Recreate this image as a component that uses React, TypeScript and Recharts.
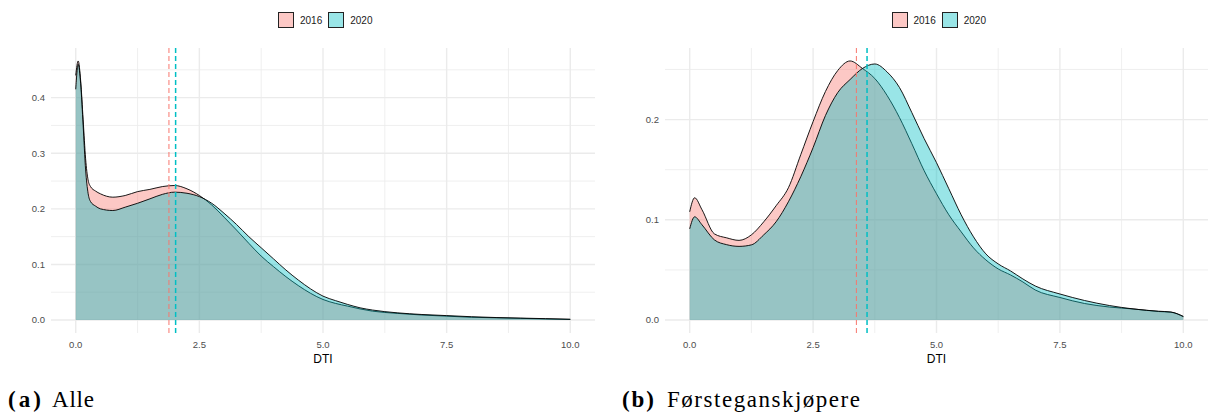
import React from "react";
import { Area, CartesianGrid, ComposedChart, ReferenceLine, XAxis, YAxis } from "recharts";

// (a) Alle
const dtiAlle = [0, 0.05, 0.1, 0.15, 0.2, 0.25, 0.3, 0.4, 0.5, 0.75, 1, 1.25, 1.5, 1.75, 2, 2.25, 2.5, 2.75, 3, 3.25, 3.5, 3.75, 4, 4.25, 4.5, 4.75, 5, 5.25, 5.5, 5.75, 6, 6.5, 7, 7.5, 8, 8.5, 9, 9.5, 10];
const alle2016 = [0.44, 0.466, 0.43, 0.36, 0.29, 0.252, 0.24, 0.232, 0.227, 0.221, 0.224, 0.231, 0.235, 0.24, 0.242, 0.236, 0.224, 0.207, 0.185, 0.162, 0.138, 0.115, 0.096, 0.078, 0.062, 0.048, 0.037, 0.03, 0.025, 0.02, 0.016, 0.012, 0.009, 0.007, 0.005, 0.004, 0.003, 0.002, 0.001];
const alle2020 = [0.415, 0.46, 0.425, 0.35, 0.27, 0.228, 0.213, 0.205, 0.2, 0.197, 0.203, 0.21, 0.218, 0.226, 0.23, 0.228, 0.222, 0.21, 0.192, 0.172, 0.15, 0.13, 0.11, 0.09, 0.072, 0.056, 0.043, 0.035, 0.028, 0.022, 0.018, 0.013, 0.01, 0.008, 0.006, 0.0045, 0.0035, 0.0025, 0.0015];
const alleMeans = [1.885, 2.02];

// (b) Førsteganskjøpere
const dtiFirst = [0, 0.1, 0.25, 0.5, 0.75, 1, 1.25, 1.5, 1.75, 2, 2.25, 2.5, 2.75, 3, 3.25, 3.5, 3.75, 4, 4.25, 4.5, 4.75, 5, 5.25, 5.5, 5.75, 6, 6.25, 6.5, 6.75, 7, 7.5, 8, 8.5, 9, 9.5, 9.75, 10];
const first2016 = [0.108, 0.122, 0.11, 0.086, 0.082, 0.0795, 0.085, 0.098, 0.114, 0.132, 0.165, 0.198, 0.228, 0.249, 0.2585, 0.251, 0.241, 0.224, 0.202, 0.176, 0.149, 0.126, 0.105, 0.088, 0.072, 0.06, 0.051, 0.045, 0.038, 0.03, 0.0225, 0.0165, 0.013, 0.011, 0.0085, 0.0078, 0.0035];
const first2020 = [0.091, 0.103, 0.095, 0.08, 0.0752, 0.0735, 0.075, 0.085, 0.098, 0.118, 0.143, 0.172, 0.204, 0.227, 0.24, 0.251, 0.2555, 0.2475, 0.232, 0.207, 0.181, 0.157, 0.131, 0.105, 0.083, 0.066, 0.056, 0.049, 0.041, 0.034, 0.026, 0.0195, 0.0145, 0.011, 0.0088, 0.008, 0.0035];
const firstMeans = [3.377, 3.593];

const years = ["2016", "2020"];
const xTicks = [0, 2.5, 5, 7.5, 10];
const xMinor = [1.25, 3.75, 6.25, 8.75];
const alleYTicks = [0, 0.1, 0.2, 0.3, 0.4];
const alleYMinor = [0.05, 0.15, 0.25, 0.35, 0.45];
const firstYTicks = [0, 0.1, 0.2];
const firstYMinor = [0.05, 0.15, 0.25];

const SANS = "'Liberation Sans', Arial, sans-serif";
const SERIF = "'Liberation Serif', 'Times New Roman', serif";
const PINK = "#F8766D";
const TEAL = "#00BFC4";
const GRID = "#EBEBEB";

interface PanelProps {
  xs: number[];
  s2016: number[];
  s2020: number[];
  means: number[];
  yTicks: number[];
  yMinor: number[];
  yAxisWidth: number;
  marginRight: number;
}

const DensityPanel: React.FC<PanelProps> = ({ xs, s2016, s2020, means, yTicks, yMinor, yAxisWidth, marginRight }) => {
  const data = xs.map((x, i) => ({ dti: x, y2016: s2016[i], y2020: s2020[i] }));
  const top = Math.max(...s2016, ...s2020);
  const plotLeft = yAxisWidth;
  const plotRight = 604 - marginRight;
  const legendLeft = (plotLeft + plotRight) / 2 - 45;

  return (
    <div style={{ position: "relative", width: 604, height: 412 }}>
      <div
        style={{
          position: "absolute",
          left: legendLeft,
          top: 12,
          display: "flex",
          alignItems: "center",
          fontFamily: SANS,
          fontSize: 10,
          color: "#1a1a1a",
          height: 16,
        }}
      >
        {years.map((yr, i) => (
          <div key={yr} style={{ display: "flex", alignItems: "center", marginRight: 6 }}>
            <div
              style={{
                width: 16,
                height: 16,
                boxSizing: "border-box",
                border: "1px solid #222",
                background: i === 0 ? "rgba(248,118,109,0.4)" : "rgba(0,191,196,0.4)",
              }}
            />
            <span style={{ marginLeft: 6 }}>{yr}</span>
          </div>
        ))}
      </div>
      <div style={{ position: "absolute", left: 0, top: 0 }}>
        <ComposedChart width={604} height={365} data={data} margin={{ top: 48, right: marginRight, left: 0, bottom: 0 }}>
          <CartesianGrid stroke={GRID} strokeWidth={0.8} horizontalValues={yMinor} verticalValues={xMinor} />
          <CartesianGrid stroke={GRID} strokeWidth={1.4} horizontalValues={yTicks} verticalValues={xTicks} />
          <XAxis
            dataKey="dti"
            type="number"
            domain={[-0.5, 10.5]}
            ticks={xTicks}
            tickFormatter={(v: number) => v.toFixed(1)}
            tickLine={false}
            axisLine={false}
            tickSize={0}
            tickMargin={8}
            height={32}
            tick={{ fill: "#4D4D4D", fontSize: 9.5, fontFamily: SANS }}
            label={{ value: "DTI", position: "insideBottom", offset: 2, fill: "#000", fontSize: 12, fontFamily: SANS }}
          />
          <YAxis
            type="number"
            domain={[-top * 0.05, top * 1.05]}
            ticks={yTicks}
            tickFormatter={(v: number) => v.toFixed(1)}
            tickLine={false}
            axisLine={false}
            tickSize={0}
            tickMargin={6}
            width={yAxisWidth}
            tick={{ fill: "#4D4D4D", fontSize: 9.5, fontFamily: SANS }}
          />
          <Area
            type="monotone"
            dataKey="y2016"
            stroke="#000"
            strokeWidth={0.9}
            fill={PINK}
            fillOpacity={0.4}
            dot={false}
            activeDot={false}
            isAnimationActive={false}
          />
          <Area
            type="monotone"
            dataKey="y2020"
            stroke="#000"
            strokeWidth={0.9}
            fill={TEAL}
            fillOpacity={0.4}
            dot={false}
            activeDot={false}
            isAnimationActive={false}
          />
          <ReferenceLine x={means[0]} stroke={PINK} strokeWidth={1} strokeDasharray="5 3" />
          <ReferenceLine x={means[1]} stroke={TEAL} strokeWidth={1.5} strokeDasharray="5 3" />
        </ComposedChart>
      </div>
    </div>
  );
};

const App: React.FC = () => {
  return (
    <div style={{ position: "absolute", left: 0, top: 0, width: 1208, height: 412, background: "#fff", overflow: "hidden" }}>
      <div style={{ position: "absolute", left: 0, top: 0 }}>
        <DensityPanel
          xs={dtiAlle}
          s2016={alle2016}
          s2020={alle2020}
          means={alleMeans}
          yTicks={alleYTicks}
          yMinor={alleYMinor}
          yAxisWidth={51}
          marginRight={9}
        />
      </div>
      <div style={{ position: "absolute", left: 604, top: 0 }}>
        <DensityPanel
          xs={dtiFirst}
          s2016={first2016}
          s2020={first2020}
          means={firstMeans}
          yTicks={firstYTicks}
          yMinor={firstYMinor}
          yAxisWidth={61}
          marginRight={0}
        />
      </div>
      <svg width={1208} height={412} style={{ position: "absolute", left: 0, top: 0, pointerEvents: "none" }}>
        <text x={8} y={407} fontFamily={SERIF} fontSize={23} fontWeight="bold" textLength={33} lengthAdjust="spacing" fill="#000">
          (a)
        </text>
        <text x={52} y={407} fontFamily={SERIF} fontSize={23} textLength={42} lengthAdjust="spacing" fill="#000">
          Alle
        </text>
        <text x={622} y={407} fontFamily={SERIF} fontSize={23} fontWeight="bold" textLength={32} lengthAdjust="spacing" fill="#000">
          (b)
        </text>
        <text x={667} y={407} fontFamily={SERIF} fontSize={23} textLength={193} lengthAdjust="spacing" fill="#000">
          Førsteganskjøpere
        </text>
      </svg>
    </div>
  );
};

export default App;
